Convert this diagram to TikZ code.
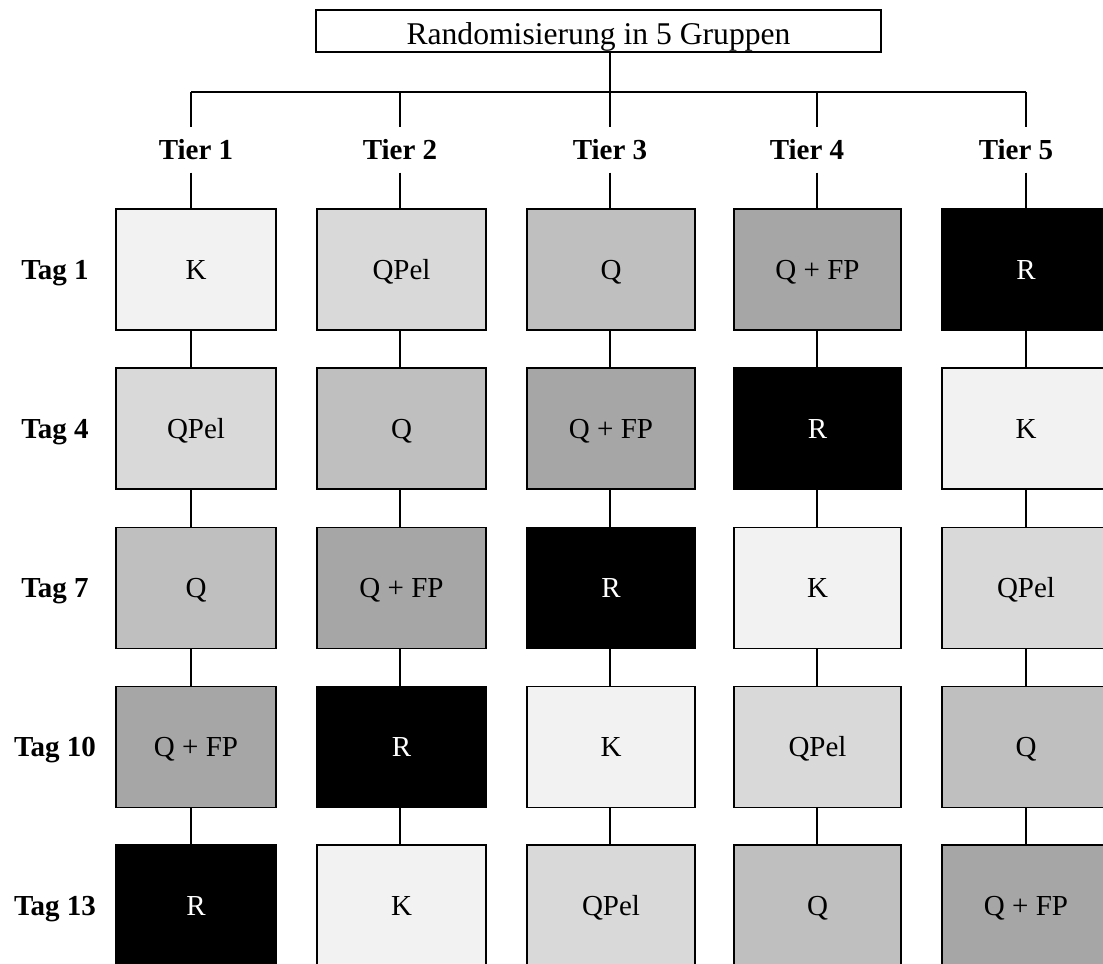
\documentclass[tikz,border=0pt]{standalone}
\usepackage{fontspec}
\setmainfont{Liberation Serif}
\usetikzlibrary{positioning,calc}
\definecolor{Shade0}{HTML}{F2F2F2}
\definecolor{Shade1}{HTML}{D9D9D9}
\definecolor{Shade2}{HTML}{BFBFBF}
\definecolor{Shade3}{HTML}{A6A6A6}
\definecolor{Shade4}{HTML}{000000}
\colorlet{Ink0}{black}\colorlet{Ink1}{black}\colorlet{Ink2}{black}
\colorlet{Ink3}{black}\colorlet{Ink4}{white}
\newcommand\cellname[1]{\ifcase#1\relax K\or QPel\or Q\or Q + FP\or R\fi}
\tikzset{every node/.style={font=\fontsize{11}{13}\selectfont,text height=8pt,text depth=.7pt},
 cell/.style={draw=black,line width=.45pt,minimum height=45.9pt,inner sep=0pt},
 head/.style={font=\fontsize{11}{13}\selectfont\bfseries,inner sep=0pt,minimum height=16.7pt},
 link/.style={draw=black,line width=.45pt}}

\begin{document}
\begin{tikzpicture}[x=0.3793pt,y=-0.3793pt]
\useasboundingbox (0,0) rectangle (1103,964);
\node[draw,line width=.45pt,minimum width=214.3pt,minimum height=15.9pt,inner sep=0pt,
 font=\fontsize{12}{14}\selectfont,text height=10.6pt] (rand) at (598.5,31) {Randomisierung in 5 Gruppen};
\coordinate (bus) at (0,92);
\foreach \c/\cx/\lx/\hx/\w in {1/196/191/196/60.7pt,2/401.5/400/400/64.1pt,3/611/610/610/63.7pt,
 4/817.5/817/807/63.3pt,5/1026/1026/1016/63.7pt}
 {\coordinate (l\c) at (\lx,92);
  \node[head] (t\c) at (\hx,150) {Tier \c};
  \foreach \r/\yy in {0/269.5,1/428.5,2/588,3/747,4/905.5}
   {\pgfmathtruncatemacro\k{mod(\r+\c-1,5)}
    \node[cell,minimum width=\w,fill=Shade\k,text=Ink\k] (b\r\c) at (\cx,\yy) {\cellname{\k}};}}
\foreach \r/\d/\yy in {0/1/269.5,1/4/428.5,2/7/588,3/10/747,4/13/905.5}
 {\node[head] (g\r) at (55,\yy) {Tag \d};}
\draw[link] (rand.south -| l3)--(l3);
\draw[link] (l1)--(l5);
\foreach \c in {1,...,5}
 {\draw[link] (l\c)--(l\c |- t\c.north);
  \draw[link] (l\c |- t\c.south)--(l\c |- b0\c.north);
  \foreach \r [count=\s] in {0,...,3}
   {\draw[link] (b\r\c.south -| l\c)--(b\s\c.north -| l\c);}}
\end{tikzpicture}
\end{document}
